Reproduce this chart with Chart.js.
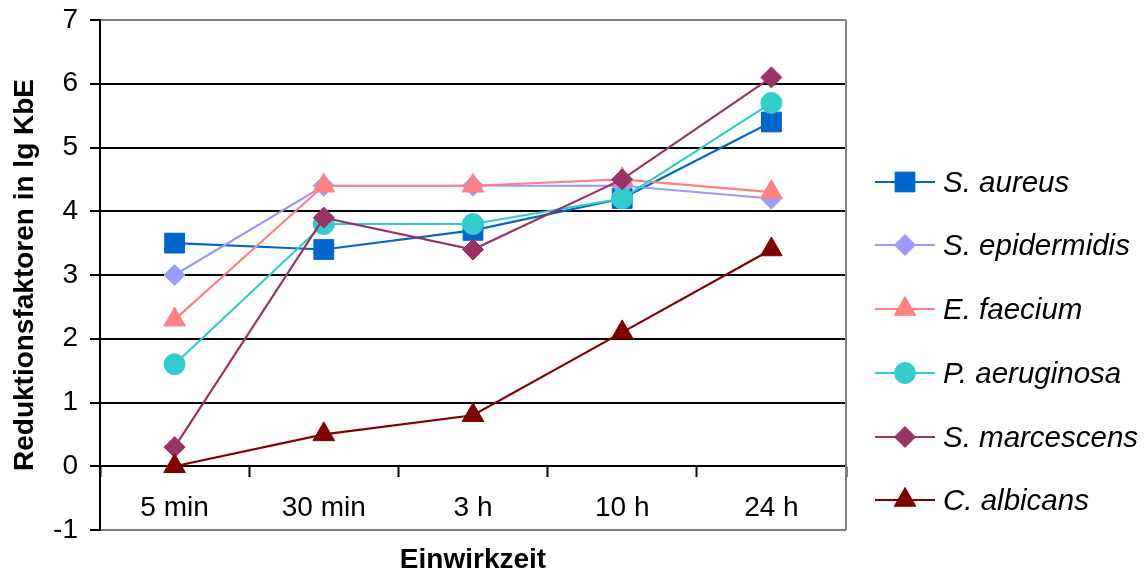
<!DOCTYPE html>
<html>
<head>
<meta charset="utf-8">
<script src="https://cdn.jsdelivr.net/npm/chart.js@4.4.1/dist/chart.umd.min.js"></script>
<style>
  html, body { margin: 0; padding: 0; background: #ffffff; }
  #wrap { position: relative; width: 1147px; height: 576px; overflow: hidden; }
  #chart { position: absolute; left: 0; top: 0; }
  #legend { position: absolute; left: 0; top: 0; width: 1147px; height: 576px; pointer-events: none; }
  .item { position: absolute; left: 875px; height: 40px; display: flex; align-items: center; }
  .item canvas { display: block; }
  .item span { font-family: "Liberation Sans", Arial, sans-serif; font-style: italic; font-size: 29.5px; color: #000; margin-left: 8px; white-space: nowrap; }
</style>
</head>
<body>
<div id="wrap">
  <canvas id="chart" width="1147" height="576"></canvas>
  <div id="legend"></div>
</div>
<script>
const categories = ['5 min', '30 min', '3 h', '10 h', '24 h'];
const seriesNames = ['S. aureus', 'S. epidermidis', 'E. faecium', 'P. aeruginosa', 'S. marcescens', 'C. albicans'];
const sAureus = [3.5, 3.4, 3.7, 4.2, 5.4];
const sEpidermidis = [3.0, 4.4, 4.4, 4.4, 4.2];
const eFaecium = [2.3, 4.4, 4.4, 4.5, 4.3];
const pAeruginosa = [1.6, 3.8, 3.8, 4.2, 5.7];
const sMarcescens = [0.3, 3.9, 3.4, 4.5, 6.1];
const cAlbicans = [0.0, 0.5, 0.8, 2.1, 3.4];
const yTicks = [-1, 0, 1, 2, 3, 4, 5, 6, 7];
const yTitle = 'Reduktionsfaktoren in lg KbE';
const xTitle = 'Einwirkzeit';

const seriesValues = [sAureus, sEpidermidis, eFaecium, pAeruginosa, sMarcescens, cAlbicans];
const colors = ['#0066CC', '#9999FF', '#FF8080', '#33CCCC', '#993366', '#800000'];
const styles = ['rect', 'rectRot', 'triangle', 'circle', 'rectRot', 'triangle'];
const radii = [14, 10.5, 12.5, 10.5, 10.5, 12.5];

const FONT = '"Liberation Sans", Arial, sans-serif';

const datasets = seriesValues.map((vals, i) => ({
  label: seriesNames[i],
  data: vals,
  borderColor: colors[i],
  backgroundColor: colors[i],
  pointBackgroundColor: colors[i],
  pointBorderColor: colors[i],
  pointBorderWidth: 1,
  pointStyle: styles[i],
  pointRadius: radii[i],
  pointHoverRadius: radii[i],
  borderWidth: 2.2,
  tension: 0,
  fill: false,
  order: seriesValues.length - i
}));

const frame = {
  id: 'frame',
  beforeDatasetsDraw(chart) {
    const {ctx, chartArea} = chart;
    ctx.save();
    ctx.strokeStyle = '#808080';
    ctx.lineWidth = 2;
    ctx.beginPath();
    ctx.moveTo(chartArea.right, chartArea.top);
    ctx.lineTo(chartArea.right, chartArea.bottom);
    ctx.stroke();
    ctx.restore();
  }
};

function noPad(scale) {
  scale.paddingTop = 0;
  scale.paddingBottom = 0;
  scale.paddingLeft = 0;
  scale.paddingRight = 0;
}

new Chart(document.getElementById('chart'), {
  type: 'line',
  data: { labels: categories, datasets },
  options: {
    responsive: false,
    animation: false,
    devicePixelRatio: 1,
    layout: { padding: { left: 0, top: 20, right: 301, bottom: 46 } },
    plugins: { legend: { display: false }, tooltip: { enabled: false } },
    scales: {
      x: {
        type: 'category',
        position: { y: 0 },
        offset: true,
        afterFit(scale) { noPad(scale); },
        grid: {
          display: true,
          drawOnChartArea: false,
          drawTicks: true,
          tickLength: 10,
          tickColor: '#000000',
          tickWidth: 2,
          offset: true
        },
        border: { display: true, color: '#000000', width: 2 },
        ticks: { color: '#000000', font: { family: FONT, size: 28 }, padding: 15, maxRotation: 0, autoSkip: false },
        title: { display: true, text: xTitle, color: '#000000', font: { family: FONT, size: 28, weight: 'bold' }, padding: { top: 4, bottom: 0 } }
      },
      y: {
        min: -1,
        max: 7,
        afterFit(scale) { scale.width = 100; noPad(scale); },
        afterBuildTicks(scale) { scale.ticks = yTicks.map(v => ({ value: v })); },
        grid: {
          color: ctx => (ctx.tick && (ctx.tick.value === 7 || ctx.tick.value === -1)) ? '#808080' : '#000000',
          lineWidth: 2,
          tickColor: '#000000',
          tickLength: 10,
          tickWidth: 2
        },
        border: { display: true, color: '#000000', width: 2 },
        ticks: { color: '#000000', font: { family: FONT, size: 28 }, padding: 12, stepSize: 1 },
        title: { display: true, text: yTitle, color: '#000000', font: { family: FONT, size: 28, weight: 'bold' }, padding: { top: 8, bottom: 0 } }
      }
    }
  },
  plugins: [frame]
});

// HTML legend with symbols drawn by Chart.js helper
const legend = document.getElementById('legend');
const rowY = [182, 245, 309, 373, 437, 500];
seriesNames.forEach((name, i) => {
  const item = document.createElement('div');
  item.className = 'item';
  item.style.top = (rowY[i] - 20) + 'px';
  const c = document.createElement('canvas');
  c.width = 60; c.height = 40;
  const g = c.getContext('2d');
  g.strokeStyle = colors[i];
  g.lineWidth = 2;
  g.beginPath(); g.moveTo(0, 20); g.lineTo(60, 20); g.stroke();
  g.fillStyle = colors[i];
  g.strokeStyle = colors[i];
  g.lineWidth = 1;
  Chart.helpers.drawPoint(g, { pointStyle: styles[i], radius: radii[i], rotation: 0, borderWidth: 1 }, 30, 20);
  const s = document.createElement('span');
  s.textContent = name;
  item.appendChild(c);
  item.appendChild(s);
  legend.appendChild(item);
});
</script>
</body>
</html>
